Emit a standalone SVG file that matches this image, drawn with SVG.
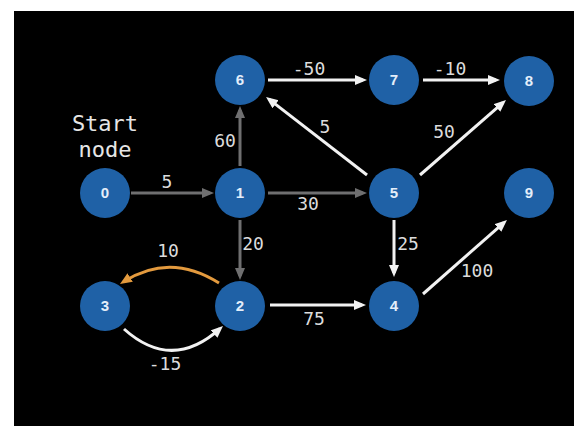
<svg xmlns="http://www.w3.org/2000/svg" width="585" height="441" viewBox="0 0 585 441">
<style>
.node circle{fill:#1f61a6}
.node text{font-family:"Liberation Sans",Arial,sans-serif;font-weight:bold;font-size:15px;fill:#e4eefa;text-anchor:middle}
.e{fill:none;stroke-width:3}
.g{stroke:#6f6f70}
.w{stroke:#f2f2f2}
.o{stroke:#e39a3e}
.lbl{font-family:"DejaVu Sans Mono",monospace;font-size:18px;fill:#dcdcdc;text-anchor:middle}
.title{font-family:"DejaVu Sans Mono",monospace;font-size:22px;fill:#e6e6e6;text-anchor:middle}
</style>
<defs>
<marker id="ag" markerUnits="userSpaceOnUse" markerWidth="13" markerHeight="11" refX="8" refY="5" orient="auto"><path d="M0,0 L12,5 L0,10 z" fill="#6f6f70"/></marker>
<marker id="aw" markerUnits="userSpaceOnUse" markerWidth="13" markerHeight="11" refX="8" refY="5" orient="auto"><path d="M0,0 L12,5 L0,10 z" fill="#f2f2f2"/></marker>
<marker id="ao" markerUnits="userSpaceOnUse" markerWidth="13" markerHeight="11" refX="8" refY="5" orient="auto"><path d="M0,0 L12,5 L0,10 z" fill="#e39a3e"/></marker>
</defs>
<rect x="0" y="0" width="585" height="441" fill="#ffffff"/>
<rect x="14" y="11" width="560" height="415" fill="#000000"/>
<text class="title" x="105" y="131">Start</text>
<text class="title" x="105" y="157">node</text>
<g id="connectors">
<path class="e g" d="M131,193 L210,193" marker-end="url(#ag)"/>
<path class="e g" d="M240,166 L240,110" marker-end="url(#ag)"/>
<path class="e g" d="M268,193 L363,193" marker-end="url(#ag)"/>
<path class="e g" d="M240,220 L240,276" marker-end="url(#ag)"/>
<path class="e w" d="M268,80 L363,80" marker-end="url(#aw)"/>
<path class="e w" d="M423,80 L496,80" marker-end="url(#aw)"/>
<path class="e w" d="M367,175 L269.2,99.4" marker-end="url(#aw)"/>
<path class="e w" d="M420,175 L503,102.6" marker-end="url(#aw)"/>
<path class="e w" d="M394,220 L394,273" marker-end="url(#aw)"/>
<path class="e w" d="M270,305 L362,305" marker-end="url(#aw)"/>
<path class="e w" d="M423,294 L504,222.6" marker-end="url(#aw)"/>
<path class="e o" d="M219,283 Q170,252 123.4,281.8" marker-end="url(#ao)"/>
<path class="e w" d="M124,329 Q172,372 220,328.7" marker-end="url(#aw)"/>
<text class="lbl" x="167" y="188">5</text>
<text class="lbl" x="225" y="147">60</text>
<text class="lbl" x="308" y="210">30</text>
<text class="lbl" x="253" y="250">20</text>
<text class="lbl" x="309" y="75">-50</text>
<text class="lbl" x="450" y="75">-10</text>
<text class="lbl" x="325" y="133">5</text>
<text class="lbl" x="444" y="138">50</text>
<text class="lbl" x="408" y="250">25</text>
<text class="lbl" x="314" y="325">75</text>
<text class="lbl" x="477" y="277">100</text>
<text class="lbl" x="168" y="257">10</text>
<text class="lbl" x="165" y="370">-15</text>
</g>
<g id="n0" class="node"><circle cx="105" cy="193" r="25"/><text x="105" y="198">0</text></g>
<g id="n1" class="node"><circle cx="240" cy="193" r="25"/><text x="240" y="198">1</text></g>
<g id="n2" class="node"><circle cx="240" cy="306" r="25"/><text x="240" y="311">2</text></g>
<g id="n3" class="node"><circle cx="105" cy="306" r="25"/><text x="105" y="311">3</text></g>
<g id="n4" class="node"><circle cx="394" cy="306" r="25"/><text x="394" y="311">4</text></g>
<g id="n5" class="node"><circle cx="394" cy="193" r="25"/><text x="394" y="198">5</text></g>
<g id="n6" class="node"><circle cx="240" cy="80" r="25"/><text x="240" y="85">6</text></g>
<g id="n7" class="node"><circle cx="394" cy="80" r="25"/><text x="394" y="85">7</text></g>
<g id="n8" class="node"><circle cx="529" cy="81" r="25"/><text x="529" y="86">8</text></g>
<g id="n9" class="node"><circle cx="529" cy="193" r="25"/><text x="529" y="198">9</text></g>
</svg>
